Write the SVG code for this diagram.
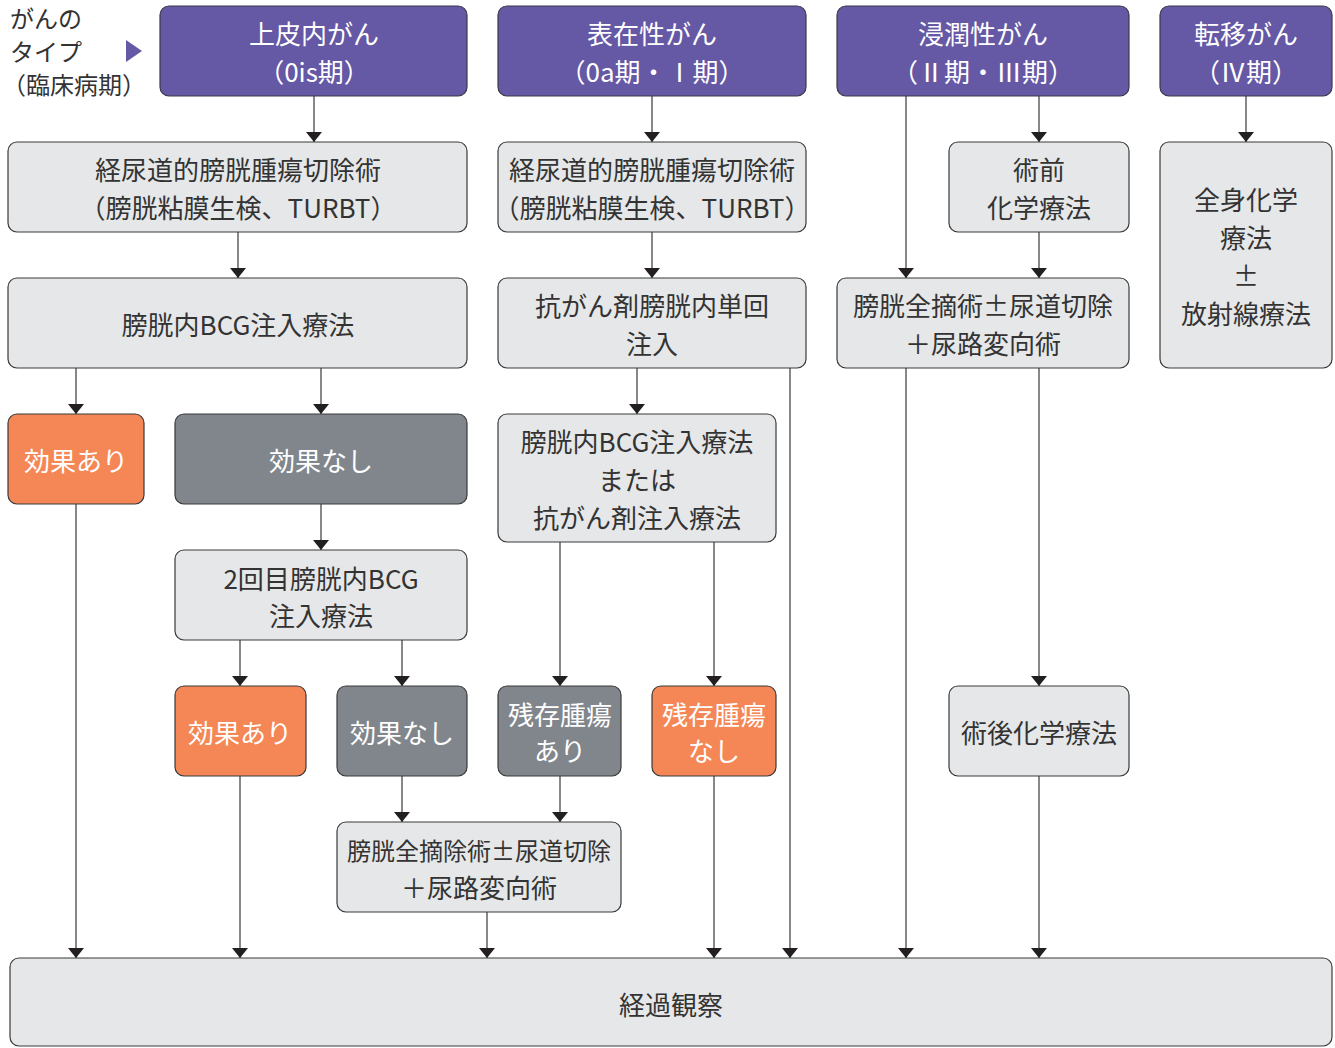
<svg xmlns="http://www.w3.org/2000/svg" width="1335" height="1048" viewBox="0 0 1335 1048">
<defs>
<marker id="ah" viewBox="0 0 10 16" refX="10" refY="8" markerWidth="10" markerHeight="16" markerUnits="userSpaceOnUse" orient="auto">
<path d="M0,0 L10,8 L0,16 Z" fill="#231f20"/>
</marker>
</defs>
<style>
text{font-family:"Noto Sans CJK JP","Noto Sans",sans-serif;font-size:26px;text-anchor:middle;dominant-baseline:central}
.hd rect{fill:#6558a5;stroke:#3a3a4a;stroke-width:1.2}
.hd text{fill:#ffffff}
.lt rect{fill:#e6e7e8;stroke:#3a3a3a;stroke-width:1.2}
.lt text{fill:#333333}
.or rect{fill:#f58656;stroke:#3a3a3a;stroke-width:1.2}
.or text{fill:#ffffff}
.gr rect{fill:#80868c;stroke:#3a3a3a;stroke-width:1.2}
.gr text{fill:#ffffff}
.lbl text{fill:#333333;text-anchor:start;font-size:24px}
#connectors line{stroke:#555555;stroke-width:1.4;marker-end:url(#ah)}
</style>

<g id="label" class="lbl">
<text x="10" y="17">がんの</text>
<text x="10" y="50">タイプ</text>
<text x="2" y="83">（臨床病期）</text>
<path d="M126,40 L142,51 L126,62 Z" fill="#6558a5"/>
</g>

<g id="connectors">
<line x1="314" y1="96" x2="314" y2="142"/>
<line x1="652" y1="96" x2="652" y2="142"/>
<line x1="906" y1="96" x2="906" y2="278"/>
<line x1="1039" y1="96" x2="1039" y2="142"/>
<line x1="1246" y1="96" x2="1246" y2="142"/>
<line x1="238" y1="232" x2="238" y2="278"/>
<line x1="652" y1="232" x2="652" y2="278"/>
<line x1="1039" y1="232" x2="1039" y2="278"/>
<line x1="76" y1="368" x2="76" y2="414"/>
<line x1="321" y1="368" x2="321" y2="414"/>
<line x1="637" y1="368" x2="637" y2="414"/>
<line x1="790" y1="368" x2="790" y2="958"/>
<line x1="906" y1="368" x2="906" y2="958"/>
<line x1="1039" y1="368" x2="1039" y2="686"/>
<line x1="76" y1="504" x2="76" y2="958"/>
<line x1="321" y1="504" x2="321" y2="550"/>
<line x1="560" y1="542" x2="560" y2="686"/>
<line x1="714" y1="542" x2="714" y2="686"/>
<line x1="240" y1="640" x2="240" y2="686"/>
<line x1="402" y1="640" x2="402" y2="686"/>
<line x1="240" y1="776" x2="240" y2="958"/>
<line x1="402" y1="776" x2="402" y2="822"/>
<line x1="560" y1="776" x2="560" y2="822"/>
<line x1="714" y1="776" x2="714" y2="958"/>
<line x1="1039" y1="776" x2="1039" y2="958"/>
<line x1="487" y1="912" x2="487" y2="958"/>
</g>

<g id="h1" class="hd"><rect x="160" y="6" width="307" height="90" rx="9"/><text x="314" y="32">上皮内がん</text><text x="314" y="70">（0is期）</text></g>
<g id="h2" class="hd"><rect x="498" y="6" width="308" height="90" rx="9"/><text x="652" y="32">表在性がん</text><text x="652" y="70">（0a期・Ⅰ期）</text></g>
<g id="h3" class="hd"><rect x="837" y="6" width="292" height="90" rx="9"/><text x="983" y="32">浸潤性がん</text><text x="983" y="70">（Ⅱ期・Ⅲ期）</text></g>
<g id="h4" class="hd"><rect x="1160" y="6" width="172" height="90" rx="9"/><text x="1246" y="32">転移がん</text><text x="1246" y="70">（Ⅳ期）</text></g>

<g id="turbt1" class="lt"><rect x="8" y="142" width="459" height="90" rx="9"/><text x="238" y="168">経尿道的膀胱腫瘍切除術</text><text x="238" y="206">（膀胱粘膜生検、TURBT）</text></g>
<g id="turbt2" class="lt"><rect x="498" y="142" width="308" height="90" rx="9"/><text x="652" y="168">経尿道的膀胱腫瘍切除術</text><text x="652" y="206">（膀胱粘膜生検、TURBT）</text></g>
<g id="preop" class="lt"><rect x="949" y="142" width="180" height="90" rx="9"/><text x="1039" y="168">術前</text><text x="1039" y="206">化学療法</text></g>
<g id="systemic" class="lt"><rect x="1160" y="142" width="172" height="226" rx="9"/><text x="1246" y="198">全身化学</text><text x="1246" y="236">療法</text><text x="1246" y="274">±</text><text x="1246" y="312">放射線療法</text></g>

<g id="bcg1" class="lt"><rect x="8" y="278" width="459" height="90" rx="9"/><text x="238" y="323">膀胱内BCG注入療法</text></g>
<g id="single" class="lt"><rect x="498" y="278" width="308" height="90" rx="9"/><text x="652" y="304">抗がん剤膀胱内単回</text><text x="652" y="342">注入</text></g>
<g id="cyst1" class="lt"><rect x="837" y="278" width="292" height="90" rx="9"/><text x="983" y="304">膀胱全摘術±尿道切除</text><text x="983" y="342">＋尿路変向術</text></g>

<g id="eff1" class="or"><rect x="8" y="414" width="136" height="90" rx="9"/><text x="76" y="459">効果あり</text></g>
<g id="noeff1" class="gr"><rect x="175" y="414" width="292" height="90" rx="9"/><text x="321" y="459">効果なし</text></g>
<g id="bcgor" class="lt"><rect x="498" y="414" width="278" height="128" rx="9"/><text x="637" y="440">膀胱内BCG注入療法</text><text x="637" y="478">または</text><text x="637" y="516">抗がん剤注入療法</text></g>

<g id="bcg2" class="lt"><rect x="175" y="550" width="292" height="90" rx="9"/><text x="321" y="577">2回目膀胱内BCG</text><text x="321" y="614">注入療法</text></g>

<g id="eff2" class="or"><rect x="175" y="686" width="131" height="90" rx="9"/><text x="240" y="731">効果あり</text></g>
<g id="noeff2" class="gr"><rect x="337" y="686" width="130" height="90" rx="9"/><text x="402" y="731">効果なし</text></g>
<g id="resid" class="gr"><rect x="498" y="686" width="123" height="90" rx="9"/><text x="560" y="713">残存腫瘍</text><text x="560" y="749">あり</text></g>
<g id="noresid" class="or"><rect x="652" y="686" width="124" height="90" rx="9"/><text x="714" y="713">残存腫瘍</text><text x="714" y="749">なし</text></g>
<g id="postop" class="lt"><rect x="949" y="686" width="180" height="90" rx="9"/><text x="1039" y="731">術後化学療法</text></g>

<g id="cyst2" class="lt"><rect x="337" y="822" width="284" height="90" rx="9"/><text x="479" y="849" style="font-size:24px">膀胱全摘除術±尿道切除</text><text x="479" y="886">＋尿路変向術</text></g>

<g id="follow" class="lt"><rect x="10" y="958" width="1322" height="88" rx="9"/><text x="671" y="1003">経過観察</text></g>
</svg>
